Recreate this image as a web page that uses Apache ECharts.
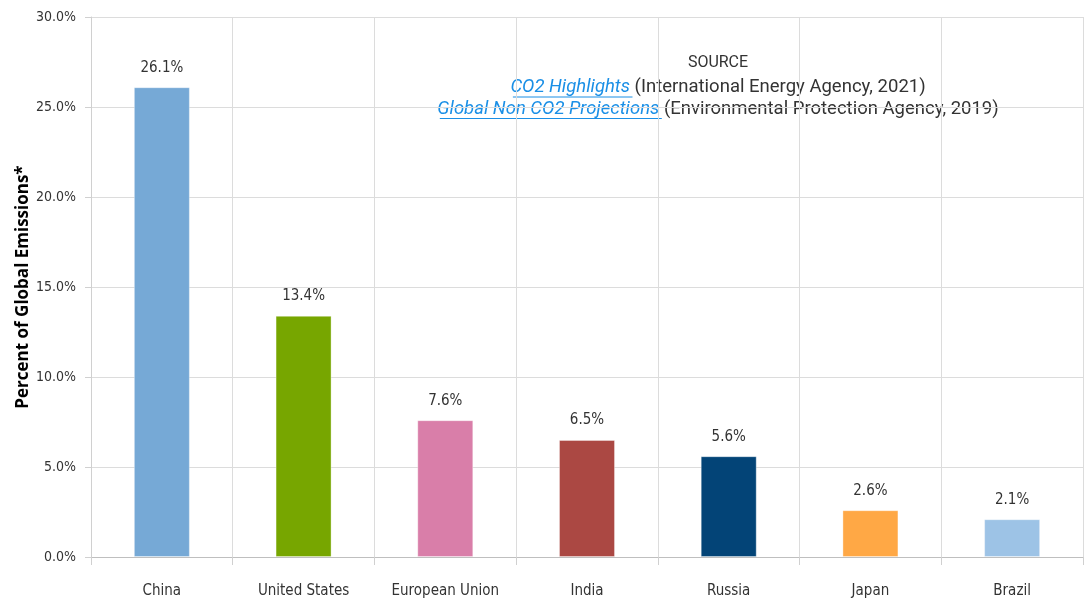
<!DOCTYPE html>
<html>
<head>
<meta charset="utf-8">
<script src="https://cdn.jsdelivr.net/npm/echarts@6/dist/echarts.min.js"></script>
<style>
  html, body { margin: 0; padding: 0; background: #fff; }
  #chart { width: 1088px; height: 601px; }
</style>
</head>
<body>
<div id="chart"></div>
<script>
// Share of global greenhouse-gas emissions by emitter
const categories = ['China', 'United States', 'European Union', 'India', 'Russia', 'Japan', 'Brazil'];
const shares = [26.1, 13.4, 7.6, 6.5, 5.6, 2.6, 2.1];
const barColors = ['#76a9d6', '#77a600', '#d97ea9', '#ab4843', '#034477', '#ffa845', '#9dc3e6'];
const yTicks = { min: 0, max: 30, interval: 5 };
const axisTitle = 'Percent of Global Emissions*';
const sourceHeading = 'SOURCE';
const sourceLines = [
  { link: 'CO2 Highlights', rest: ' (International Energy Agency, 2021)' },
  { link: 'Global Non CO2 Projections', rest: ' (Environmental Protection Agency, 2019)' }
];

const narrow = '"Liberation Sans Narrow", "DejaVu Sans Condensed", Roboto, sans-serif';
const srcFont = 'Roboto, "Noto Sans", sans-serif';

const chart = echarts.init(document.getElementById('chart'), null, { renderer: 'canvas' });

// Measure text so the underlined link + plain text can be centred as one line
const ctx = document.createElement('canvas').getContext('2d');
function measure(text, font) { ctx.font = font; return ctx.measureText(text).width; }

const srcCenterX = 718;
const headSize = 16;
const lineSize = 18.5;
const srcGraphics = [{
  type: 'text',
  left: srcCenterX - measure(sourceHeading, headSize + 'px ' + srcFont) / 2,
  top: 55,
  style: { text: sourceHeading, font: headSize + 'px ' + srcFont, fill: '#333333' }
}];
sourceLines.forEach((ln, i) => {
  const linkFont = 'italic ' + lineSize + 'px ' + srcFont;
  const restFont = lineSize + 'px ' + srcFont;
  const wLink = measure(ln.link, linkFont);
  const wRest = measure(ln.rest, restFont);
  const x0 = srcCenterX - (wLink + wRest) / 2;
  const top = 78 + i * 21.5;
  srcGraphics.push(
    { type: 'text', left: x0, top: top, style: { text: ln.link, font: linkFont, fill: '#1a8fe6' } },
    { type: 'line', left: x0, top: top + 16.5, shape: { x1: 0, y1: 0, x2: wLink, y2: 0 }, style: { stroke: '#1a8fe6', lineWidth: 1 } },
    { type: 'text', left: x0 + wLink, top: top, style: { text: ln.rest, font: restFont, fill: '#333333' } }
  );
});

chart.setOption({
  animation: false,
  backgroundColor: '#ffffff',
  grid: { left: 91, right: 5, top: 17, bottom: 44, containLabel: false },
  xAxis: {
    type: 'category',
    data: categories,
    axisLine: { lineStyle: { color: '#bfbfbf', width: 1 } },
    axisTick: { show: true, interval: 0, length: 8, lineStyle: { color: '#d0d0d0' } },
    axisLabel: { interval: 0, margin: 27, fontFamily: narrow, fontSize: 15, color: '#333333' },
    splitLine: { show: true, interval: 0, lineStyle: { color: '#dcdcdc', width: 1 } }
  },
  yAxis: {
    type: 'value',
    min: yTicks.min, max: yTicks.max, interval: yTicks.interval,
    name: axisTitle,
    nameLocation: 'middle',
    nameGap: 59,
    nameMoveOverlap: false,
    nameRotate: 90,
    nameTextStyle: { fontFamily: '"Open Sans", "DejaVu Sans", sans-serif', fontWeight: 'bold', fontSize: 17, color: '#000000' },
    axisLine: { show: true, lineStyle: { color: '#d0d0d0' } },
    axisTick: { show: true, length: 6, lineStyle: { color: '#d0d0d0' } },
    axisLabel: {
      margin: 15, fontFamily: narrow, fontSize: 14, color: '#333333',
      formatter: v => v.toFixed(1) + '%'
    },
    splitLine: { show: true, lineStyle: { color: '#dcdcdc', width: 1 } }
  },
  series: [{
    type: 'bar',
    barWidth: 56,
    data: shares.map((v, i) => ({
      value: v,
      itemStyle: { color: barColors[i], borderColor: 'rgba(255,255,255,0.35)', borderWidth: 1 }
    })),
    label: {
      show: true, position: 'top', distance: 12,
      fontFamily: narrow, fontSize: 15, color: '#333333',
      formatter: p => p.value.toFixed(1) + '%'
    }
  }],
  graphic: srcGraphics
});
</script>
</body>
</html>
